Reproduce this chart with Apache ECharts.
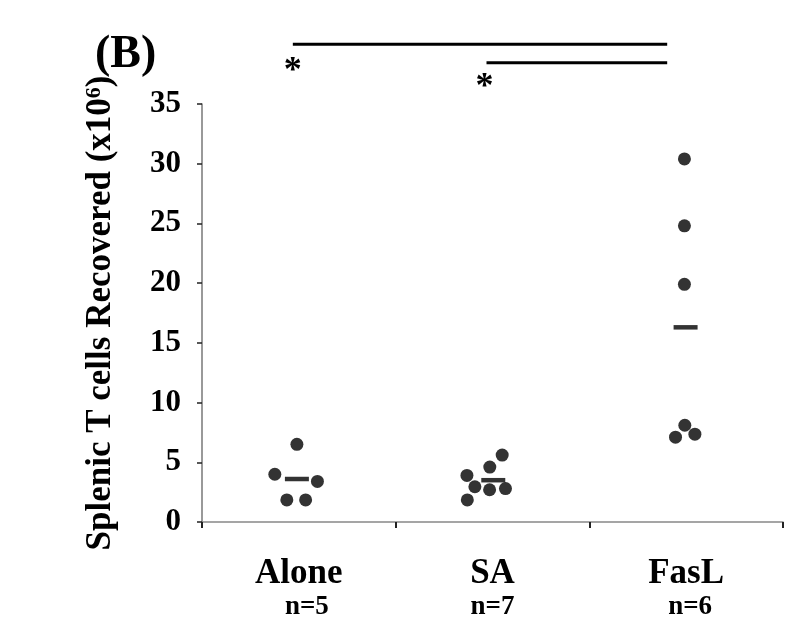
<!DOCTYPE html>
<html>
<head>
<meta charset="utf-8">
<script src="https://cdn.jsdelivr.net/npm/echarts@6/dist/echarts.min.js"></script>
<style>
html,body{margin:0;padding:0;background:#fff;}
#chart{width:800px;height:632px;}
</style>
</head>
<body>
<div id="chart"></div>
<script>
// ---- data ----
const categories = ['Alone', 'SA', 'FasL'];
const counts = ['n=5', 'n=7', 'n=6'];
const yTickValues = [0, 5, 10, 15, 20, 25, 30, 35];

// x in category units (0..3, category i spans i..i+1), y in 10^6 cells
const aloneX = [0.49, 0.376, 0.596, 0.438, 0.535];
const aloneY = [6.5, 4.0, 3.4, 1.85, 1.85];
const saX = [1.55, 1.486, 1.368, 1.409, 1.485, 1.567, 1.37];
const saY = [5.6, 4.6, 3.9, 2.95, 2.7, 2.8, 1.85];
const fasX = [2.491, 2.491, 2.491, 2.493, 2.445, 2.545];
const fasY = [30.4, 24.8, 19.9, 8.1, 7.1, 7.35];
const meanX = [0.49, 1.504, 2.497];
const meanY = [3.6, 3.5, 16.3];

// significance annotations (data units)
const bracketFrom = [0.469, 1.469];
const bracketTo = [2.402, 2.402];
const bracketY = [40.0, 38.45];
const starX = [0.469, 1.459];
const starY = [37.7, 36.35];

const FONT = 'Liberation Serif';

function pairs(xs, ys) { return xs.map((x, i) => [x, ys[i]]); }

const chart = echarts.init(document.getElementById('chart'), null, {renderer: 'canvas'});

const option = {
  backgroundColor: '#ffffff',
  animation: false,
  grid: {left: 202, right: 17, top: 104, bottom: 110, containLabel: false},
  xAxis: [
    {
      type: 'category',
      data: categories,
      boundaryGap: true,
      axisLine: {show: true, lineStyle: {color: '#888', width: 1.5}},
      axisTick: {show: true, inside: false, length: 6, lineStyle: {color: '#222', width: 2}},
      splitLine: {show: false},
      axisLabel: {
        margin: 34,
        interval: 0,
        fontFamily: FONT,
        formatter: function (v, i) { return '{name|' + v + '}\n{n' + i + '|' + counts[i] + '}'; },
        rich: {
          name: {fontFamily: FONT, fontWeight: 'bold', fontSize: 35, color: '#000', lineHeight: 36},
          n0: {fontFamily: FONT, fontWeight: 'bold', fontSize: 27, color: '#000', lineHeight: 30, padding: [0, 0, 0, 16]},
          n1: {fontFamily: FONT, fontWeight: 'bold', fontSize: 27, color: '#000', lineHeight: 30},
          n2: {fontFamily: FONT, fontWeight: 'bold', fontSize: 27, color: '#000', lineHeight: 30, padding: [0, 0, 0, 8]}
        }
      }
    },
    {
      type: 'value',
      min: 0,
      max: 3,
      show: false
    }
  ],
  yAxis: {
    type: 'value',
    min: yTickValues[0],
    max: yTickValues[yTickValues.length - 1],
    interval: 5,
    name: 'Splenic T cells Recovered (x10{sup|6})',
    nameLocation: 'middle',
    nameGap: 84,
    nameRotate: 90,
    nameTextStyle: {
      fontFamily: FONT, fontWeight: 'bold', fontSize: 35, color: '#000',
      rich: {
        sup: {fontFamily: FONT, fontWeight: 'bold', fontSize: 22, color: '#000', verticalAlign: 'top', padding: [0, 0, 12, 0]}
      }
    },
    axisLine: {show: true, lineStyle: {color: '#777', width: 1.5}},
    axisTick: {show: true, inside: false, length: 5, lineStyle: {color: '#222', width: 1.5}},
    splitLine: {show: false},
    axisLabel: {margin: 21, fontFamily: FONT, fontWeight: 'bold', fontSize: 31, color: '#000'}
  },
  series: [
    {
      name: 'Alone', type: 'scatter', xAxisIndex: 1, yAxisIndex: 0,
      symbol: 'circle', symbolSize: 13, itemStyle: {color: '#000'},
      data: pairs(aloneX, aloneY)
    },
    {
      name: 'SA', type: 'scatter', xAxisIndex: 1, yAxisIndex: 0,
      symbol: 'circle', symbolSize: 13, itemStyle: {color: '#000'},
      data: pairs(saX, saY)
    },
    {
      name: 'FasL', type: 'scatter', xAxisIndex: 1, yAxisIndex: 0,
      symbol: 'circle', symbolSize: 13, itemStyle: {color: '#000'},
      data: pairs(fasX, fasY)
    },
    {
      name: 'Mean', type: 'scatter', xAxisIndex: 1, yAxisIndex: 0,
      symbol: 'rect', symbolSize: [24, 4.5], itemStyle: {color: '#000'},
      data: pairs(meanX, meanY)
    }
  ]
};

chart.setOption(option);

function px(x) { return chart.convertToPixel({xAxisIndex: 1}, x); }
function py(y) { return chart.convertToPixel({yAxisIndex: 0}, y); }

const graphics = [];
graphics.push({
  type: 'text', left: 95, top: 32,
  style: {text: '(B)', fontFamily: FONT, fontWeight: 'bold', fontSize: 46, fill: '#000'}
});
for (let i = 0; i < bracketY.length; i++) {
  graphics.push({
    type: 'line',
    shape: {x1: px(bracketFrom[i]), y1: py(bracketY[i]), x2: px(bracketTo[i]), y2: py(bracketY[i])},
    style: {stroke: '#000', lineWidth: 3}
  });
}
for (let i = 0; i < starX.length; i++) {
  graphics.push({
    type: 'text', x: px(starX[i]), y: py(starY[i]),
    style: {text: '*', fontFamily: FONT, fontWeight: 'bold', fontSize: 36, fill: '#000', align: 'center', verticalAlign: 'middle'}
  });
}
chart.setOption({graphic: graphics});
</script>
</body>
</html>
